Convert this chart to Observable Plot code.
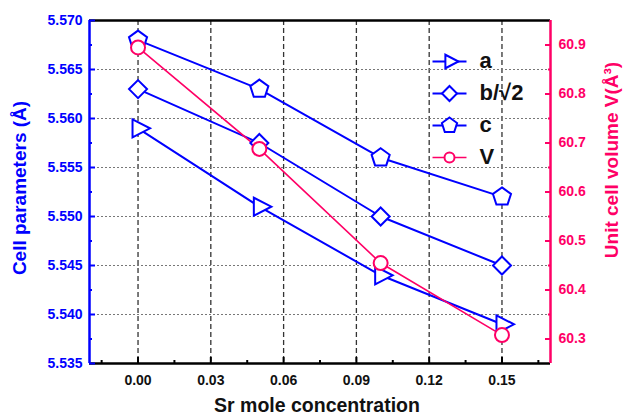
<!DOCTYPE html>
<html><head><meta charset="utf-8">
<script src="https://cdn.jsdelivr.net/npm/d3@7"></script>
<script src="https://cdn.jsdelivr.net/npm/@observablehq/plot@0.6"></script>
<style>
body{margin:0;background:#fff;}
#chart{width:625px;height:417px;}
</style>
</head><body><div id="chart"></div>
<script>
// ---- data ----
const conc = [0.00, 0.05, 0.10, 0.15];
const aVals = [5.559, 5.551, 5.544, 5.539];
const bVals = [5.563, 5.5575, 5.550, 5.545];
const cVals = [5.568, 5.563, 5.556, 5.552];
const vVals = [60.895, 60.688, 60.455, 60.308];

const seriesNames = ["a", "b/\u221A2", "c", "V"];

const xTicks = [0.00, 0.03, 0.06, 0.09, 0.12, 0.15];
const xMinor = [-0.015, 0.015, 0.045, 0.075, 0.105, 0.135, 0.165];
const yLeftTicks = [5.535, 5.540, 5.545, 5.550, 5.555, 5.560, 5.565, 5.570];
const yLeftMinor = [5.5375, 5.5425, 5.5475, 5.5525, 5.5575, 5.5625, 5.5675];
const yGrid = [5.540, 5.545, 5.550, 5.555, 5.560, 5.565];
const yRightTicks = [60.3, 60.4, 60.5, 60.6, 60.7, 60.8, 60.9];
const yRightMinor = [60.35, 60.45, 60.55, 60.65, 60.75, 60.85];

const xDomain = [-0.02, 0.17];
const yLeftDomain = [5.535, 5.570];
const yRightDomain = [60.25, 60.95];

// ---- styles ----
const BLUE = "#0000ff";
const PINK = "#ff0066";
const FONT = "'Liberation Sans', Arial, Helvetica, sans-serif";

const k = (yLeftDomain[1] - yLeftDomain[0]) / (yRightDomain[1] - yRightDomain[0]);
const toLeft = v => yLeftDomain[0] + (v - yRightDomain[0]) * k;
const toRight = y => yRightDomain[0] + (y - yLeftDomain[0]) / k;

// custom symbols
const triRight = {draw(ctx, size) {
  const r = Math.sqrt(size / Math.PI);
  ctx.moveTo(-0.55 * r, -0.9 * r); ctx.lineTo(1.2 * r, 0); ctx.lineTo(-0.55 * r, 0.9 * r); ctx.closePath();
}};
const diamond = {draw(ctx, size) {
  const r = Math.sqrt(size / Math.PI);
  ctx.moveTo(0, -r); ctx.lineTo(r, 0); ctx.lineTo(0, r); ctx.lineTo(-r, 0); ctx.closePath();
}};
const pentagon = {draw(ctx, size) {
  const r = Math.sqrt(size / Math.PI);
  for (let i = 0; i < 5; i++) {
    const a = -Math.PI / 2 + i * 2 * Math.PI / 5;
    const px = r * Math.cos(a), py = r * Math.sin(a);
    if (i === 0) ctx.moveTo(px, py); else ctx.lineTo(px, py);
  }
  ctx.closePath();
}};
const circle = {draw(ctx, size) {
  const r = Math.sqrt(size / Math.PI);
  ctx.moveTo(r, 0); ctx.arc(0, 0, r, 0, 2 * Math.PI);
}};
const hline = {draw(ctx) { ctx.moveTo(-17, 0); ctx.lineTo(17, 0); }};

const mk = vals => conc.map((x, i) => ({x, y: vals[i]}));
const aData = mk(aVals), bData = mk(bVals), cData = mk(cVals);
const vData = conc.map((x, i) => ({x, y: toLeft(vVals[i])}));

const series = [
  {data: aData, symbol: triRight, color: BLUE, r: 10, lr: 7.5, lw: 2},
  {data: bData, symbol: diamond, color: BLUE, r: 9, lr: 7.5, lw: 2},
  {data: cData, symbol: pentagon, color: BLUE, r: 9.5, lr: 8, lw: 2},
  {data: vData, symbol: circle, color: PINK, r: 7, lr: 5, lw: 1.6}
];

const marks = [];
// grid
marks.push(Plot.gridX(xTicks, {stroke: "#333", strokeOpacity: 1, strokeWidth: 1.3, strokeDasharray: "5,3"}));
marks.push(Plot.gridY(yGrid, {stroke: "#777", strokeOpacity: 1, strokeWidth: 1, strokeDasharray: "2,2"}));

// series lines and markers
for (const s of series) {
  marks.push(Plot.line(s.data, {x: "x", y: "y", stroke: s.color, strokeWidth: s.lw}));
}
for (const s of series) {
  marks.push(Plot.dot(s.data, {x: "x", y: "y", symbol: s.symbol, r: s.r, stroke: s.color, strokeWidth: 2, fill: "white"}));
}

// frame
marks.push(Plot.ruleY([yLeftDomain[0], yLeftDomain[1]], {stroke: "black", strokeWidth: 2.5}));
marks.push(Plot.ruleX([xDomain[0]], {stroke: BLUE, strokeWidth: 2.5}));
marks.push(Plot.ruleX([xDomain[1]], {stroke: PINK, strokeWidth: 2.5}));

// x axis
marks.push(Plot.axisX(xTicks, {tickSize: 0, tickPadding: 12, tickFormat: d3.format(".2f"), fontSize: 14, fontWeight: "bold", fill: "#111", label: null}));
marks.push(Plot.axisX(xTicks, {tickSize: -6, tickFormat: () => "", stroke: "black", strokeWidth: 2, label: null}));
marks.push(Plot.axisX(xMinor, {tickSize: -3, tickFormat: () => "", stroke: "black", strokeWidth: 2, label: null}));

// left axis
marks.push(Plot.axisY(yLeftTicks, {anchor: "left", tickSize: 0, tickPadding: 7, tickFormat: d3.format(".3f"), fill: BLUE, fontSize: 14, fontWeight: "bold", label: null}));
marks.push(Plot.axisY(yLeftTicks, {anchor: "left", tickSize: -6, tickFormat: () => "", stroke: BLUE, strokeWidth: 2, label: null}));
marks.push(Plot.axisY(yLeftMinor, {anchor: "left", tickSize: -3, tickFormat: () => "", stroke: BLUE, strokeWidth: 2, label: null}));

// right axis (volume)
marks.push(Plot.axisY(yRightTicks.map(toLeft), {anchor: "right", tickSize: 0, tickPadding: 8, tickFormat: d => d3.format(".1f")(toRight(d)), fill: PINK, fontSize: 14, fontWeight: "bold", label: null}));
marks.push(Plot.axisY(yRightTicks.map(toLeft), {anchor: "right", tickSize: -6, tickFormat: () => "", stroke: PINK, strokeWidth: 2, label: null}));
marks.push(Plot.axisY(yRightMinor.map(toLeft), {anchor: "right", tickSize: -3, tickFormat: () => "", stroke: PINK, strokeWidth: 2, label: null}));

// axis titles
marks.push(Plot.text(["Cell parameters (\u00C5)"], {text: d => d, frameAnchor: "left", dx: -70, dy: -4, rotate: -90, textAnchor: "middle", lineAnchor: "middle", fill: BLUE, fontSize: 19, fontWeight: "bold"}));
marks.push(Plot.text(["Unit cell volume V(\u00C5\u00B3)"], {text: d => d, frameAnchor: "right", dx: 61, dy: -32, rotate: -90, textAnchor: "middle", lineAnchor: "middle", fill: PINK, fontSize: 19, fontWeight: "bold"}));
marks.push(Plot.text(["Sr mole concentration"], {text: d => d, frameAnchor: "bottom", dy: 42.5, dx: -3, textAnchor: "middle", lineAnchor: "middle", fill: "#111", fontSize: 19.5, fontWeight: "bold"}));

// legend
series.forEach((s, i) => {
  const dy = 41 + 32 * i;
  marks.push(Plot.dot([seriesNames[i]], {frameAnchor: "top-right", dx: -101, dy, symbol: hline, r: 5, stroke: s.color, strokeWidth: s.lw, fill: "none"}));
  marks.push(Plot.dot([seriesNames[i]], {frameAnchor: "top-right", dx: -101, dy, symbol: s.symbol, r: s.lr, stroke: s.color, strokeWidth: 2, fill: "white"}));
  marks.push(Plot.text([seriesNames[i]], {text: d => d, frameAnchor: "top-right", dx: -71, dy: dy - 1, textAnchor: "start", lineAnchor: "middle", fill: "#111", fontSize: 22, fontWeight: "bold"}));
});

const plot = Plot.plot({
  width: 625, height: 417,
  marginLeft: 89, marginRight: 75, marginTop: 20, marginBottom: 54,
  x: {domain: xDomain},
  y: {domain: yLeftDomain},
  style: {fontFamily: FONT, background: "white", overflow: "visible"},
  marks
});
document.getElementById("chart").appendChild(plot);
</script>
</body></html>
